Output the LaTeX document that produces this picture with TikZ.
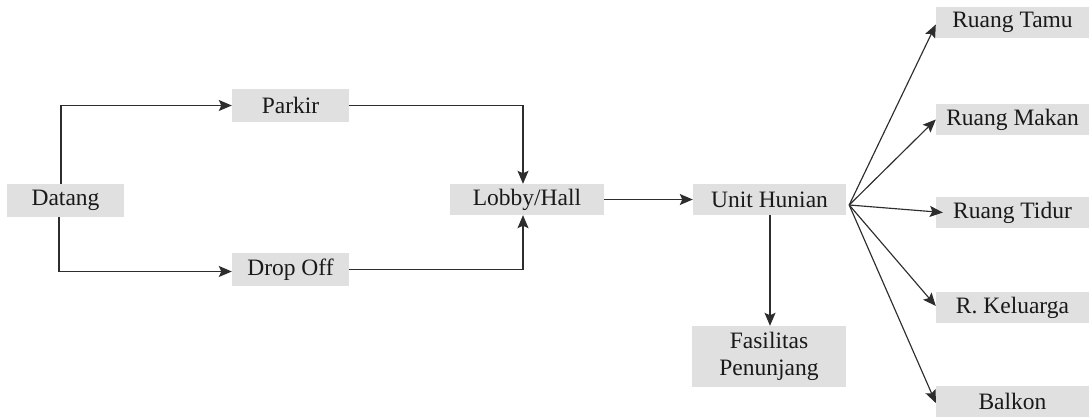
\documentclass[tikz,border=0pt]{standalone}
\usepackage{fontspec}
\setmainfont{Liberation Serif}
\usetikzlibrary{arrows.meta}
\definecolor{boxgray}{RGB}{224,224,224}
\definecolor{linegray}{RGB}{45,45,45}
\definecolor{txtgray}{RGB}{25,25,25}
\tikzset{
  box/.style={fill=boxgray, draw=none, inner sep=0pt, text=txtgray,
    font=\fontsize{23.5}{27}\selectfont, align=center},
  arr/.style={draw=linegray, line width=1.15pt,
    -{Stealth[length=13pt,width=11pt,inset=2.5pt]}}
}
\begin{document}
\begin{tikzpicture}[x=1pt,y=-1pt]
\useasboundingbox (0,0) rectangle (1089,419);
\node[box, minimum width=117pt, minimum height=33pt] (datang) at (65.5,200.5) {Datang};
\node[box, minimum width=117pt, minimum height=33pt] (parkir) at (290.5,105.5) {Parkir};
\node[box, minimum width=117pt, minimum height=33pt] (drop) at (290.5,269.5) {Drop Off};
\node[box, minimum width=154pt, minimum height=31pt] (lobby) at (527,199.5) {Lobby/Hall};
\node[box, minimum width=153pt, minimum height=31pt] (unit) at (769.5,199.5) {Unit Hunian};
\node[box, minimum width=154pt, minimum height=61pt] (fas) at (769,356.5) {Fasilitas\\Penunjang};
\node[box, minimum width=153pt, minimum height=31pt] (tamu) at (1012.5,22.5) {Ruang Tamu};
\node[box, minimum width=153pt, minimum height=31pt] (makan) at (1012.5,119.5) {Ruang Makan};
\node[box, minimum width=153pt, minimum height=31pt] (tidur) at (1012.5,212.5) {Ruang Tidur};
\node[box, minimum width=153pt, minimum height=31pt] (kel) at (1012.5,307.5) {R. Keluarga};
\node[box, minimum width=153pt, minimum height=31pt] (balkon) at (1012.5,401.5) {Balkon};

\draw[arr] ([xshift=-4.5pt]datang.north) |- (parkir.west);
\draw[arr] ([xshift=-6.5pt]datang.south) |- ([yshift=-2pt]drop.west);
\draw[arr] (parkir.east) -| ([xshift=-4pt]lobby.north);
\draw[arr] (drop.east) -| ([xshift=-4pt]lobby.south);
\draw[arr] (lobby.east) -- (unit.west);
\draw[arr] ([xshift=0.5pt]unit.south) -- ([xshift=1pt]fas.north);
\coordinate (fan) at ([xshift=3pt,yshift=-5.5pt]unit.east);
\draw[arr] (fan) -- ([yshift=-2pt]tamu.west);
\draw[arr] (fan) -- (makan.west);
\draw[arr] (fan) -- ([xshift=7pt]tidur.west);
\draw[arr] (fan) -- ([yshift=1.5pt]kel.west);
\draw[arr] (fan) -- ([yshift=-1.5pt]balkon.west);
\end{tikzpicture}
\end{document}
